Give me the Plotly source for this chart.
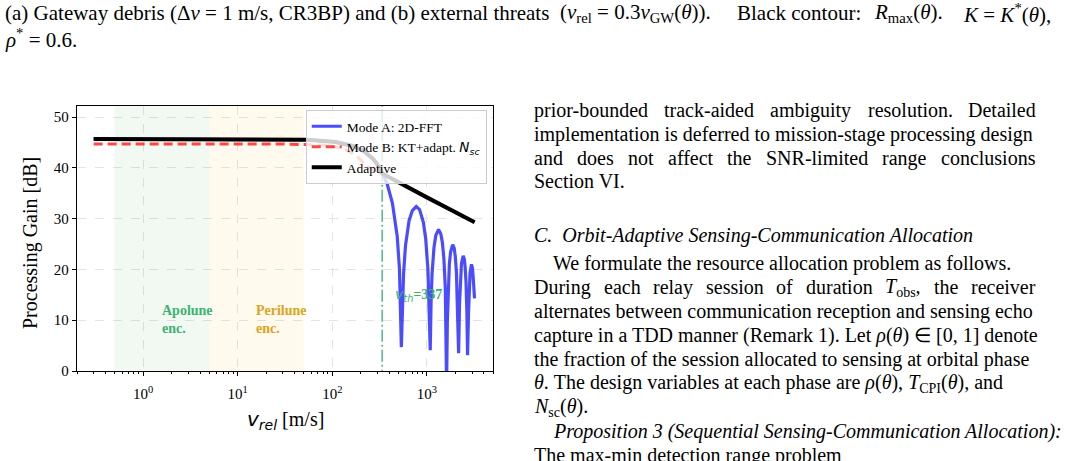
import math
import plotly.graph_objects as go

# ---------------- data ----------------
mode_a_v = [0.3, 1, 10, 30, 54, 108, 162, 216, 270, 324, 378, 432, 486, 513, 537,
            567, 594, 648, 702, 772, 837, 918, 972, 1026, 1053, 1085,
            1107, 1134, 1188, 1242, 1328, 1404, 1458, 1512, 1566, 1593, 1615,
            1647, 1674, 1728, 1782, 1874, 1944, 1998, 2052, 2106, 2165,
            2214, 2268, 2322, 2419, 2484, 2538, 2592, 2646, 2690,
            2754, 2808, 2862, 2959, 3024, 3078, 3132, 3190]
mode_a_gain = [45.7, 45.7, 45.7, 45.66, 45.56, 45.12, 44.37, 43.28, 41.78, 39.76, 37.0, 33.1, 26.5, 20.1, 4.7,
               19.2, 24.7, 29.6, 31.6, 32.4, 31.8, 29.3, 26.0, 20.0, 13.8, 4.1,
               13.4, 19.1, 24.3, 26.7, 27.9, 27.0, 25.3, 22.2, 16.3, 10.2, -3.0,
               10.0, 15.7, 21.0, 23.5, 24.9, 24.2, 22.5, 19.5, 13.7, 3.5,
               13.3, 18.7, 21.2, 22.7, 22.1, 20.5, 17.5, 11.7, 3.1,
               11.4, 16.8, 19.4, 21.0, 20.4, 18.8, 15.9, 14.3]

mode_b_v = [0.3, 30, 80, 130, 180, 230, 280, 337, 1000, 3200]
mode_b_gain = [44.7, 44.7, 44.5, 43.9, 42.4, 40.4, 39.4, 38.9, 34.2, 29.3]

adaptive_v = [0.3, 10, 30, 54, 108, 162, 216, 270, 300, 337, 1000, 3200]
adaptive_gain = [45.7, 45.7, 45.66, 45.56, 45.12, 44.37, 43.28, 41.78, 40.7, 38.9, 34.2, 29.3]

v_th = 337
apolune_band = [0.5, 5]
perilune_band = [5, 50]

x_tick_vals = [1, 10, 100, 1000]
x_tick_text = ["10<sup>0</sup>", "10<sup>1</sup>", "10<sup>2</sup>", "10<sup>3</sup>"]
y_tick_vals = [0, 10, 20, 30, 40, 50]

# ---------------- layout geometry ----------------
W, H = 1071, 461
L, R, T, B = 77, 578, 106, 90
PW, PH = W - L - R, H - T - B
SERIF = "Liberation Serif"
GREEN = "rgb(60,179,113)"
GOLD = "rgb(218,165,32)"


def px(x):
    return (x - L) / PW


def py(y):
    return (H - B - y) / PH


fig = go.Figure()

# shaded regions
for band, col in [(apolune_band, "rgba(34,139,34,0.06)"), (perilune_band, "rgba(255,165,0,0.065)")]:
    fig.add_trace(go.Scatter(x=[band[0], band[1], band[1], band[0], band[0]],
                             y=[-10, -10, 100, 100, -10], fill="toself", fillcolor=col,
                             mode="lines", line=dict(width=0), showlegend=False, hoverinfo="skip"))

# threshold line
fig.add_trace(go.Scatter(x=[v_th, v_th], y=[-10, 100], mode="lines",
                         line=dict(color="rgba(60,179,113,0.85)", width=1.6, dash="12px,3px,2px,3px"),
                         showlegend=False, hoverinfo="skip"))

fig.add_trace(go.Scatter(x=mode_a_v, y=mode_a_gain, mode="lines", name="Mode A: 2D-FFT",
                         line=dict(color="rgba(0,0,255,0.7)", width=3.2)))
fig.add_trace(go.Scatter(x=mode_b_v, y=mode_b_gain, mode="lines",
                         name="Mode B: KT+adapt. <span style=\"font-family:DejaVu Sans\"><i>N</i><sub><i>sc</i></sub></span>",
                         line=dict(color="rgba(255,0,0,0.72)", width=3, dash="9px,5px")))
fig.add_trace(go.Scatter(x=adaptive_v, y=adaptive_gain, mode="lines", name="Adaptive",
                         line=dict(color="black", width=4)))

minor_vals = [m * 10 ** e for e in range(-1, 4) for m in range(2, 10) if 0.2 <= m * 10 ** e <= 5000]

fig.update_xaxes(type="log", range=[math.log10(0.2), math.log10(5000)],
                 tickvals=x_tick_vals, ticktext=x_tick_text,
                 ticks="outside", ticklen=4, tickwidth=1, tickcolor="black",
                 ticklabelstandoff=5,
                 showline=True, linecolor="black", linewidth=1.3, mirror=True,
                 showgrid=True, gridcolor="#e4e4e4", griddash="dash", gridwidth=1,
                 zeroline=False,
                 tickfont=dict(family=SERIF, size=15, color="black"),
                 minor=dict(tickvals=minor_vals, ticks="outside", ticklen=2, tickwidth=0.8,
                            tickcolor="black", showgrid=False))
fig.update_yaxes(range=[0, 52.2], tickvals=y_tick_vals,
                 ticks="outside", ticklen=4, tickwidth=1, tickcolor="black",
                 showline=True, linecolor="black", linewidth=1.3, mirror=True,
                 showgrid=True, gridcolor="#e4e4e4", griddash="dash", gridwidth=1,
                 zeroline=False,
                 tickfont=dict(family=SERIF, size=15, color="black"))

annotations = []


def text(x, y, s, anchor="left", size=20, color="black"):
    annotations.append(dict(xref="paper", yref="paper", x=px(x), y=py(y), text=s,
                            xanchor=anchor, yanchor="middle", showarrow=False,
                            font=dict(family=SERIF, size=size, color=color)))


# axis titles
annotations.append(dict(xref="paper", yref="paper", x=px(30), y=py(243), text="Processing Gain [dB]",
                        textangle=-90, xanchor="center", yanchor="middle", showarrow=False,
                        font=dict(family=SERIF, size=20, color="black")))
annotations.append(dict(xref="paper", yref="paper", x=0.5, y=py(420),
                        text="<span style=\"font-family:DejaVu Sans\"><i>v</i><sub><i>rel</i></sub></span> [m/s]",
                        xanchor="center", yanchor="middle", showarrow=False,
                        font=dict(family=SERIF, size=20, color="black")))

# in-plot labels
annotations.append(dict(x=math.log10(1.5), y=10.2, xref="x", yref="y", text="<b>Apolune<br>enc.</b>",
                        align="left", xanchor="left", yanchor="middle", showarrow=False,
                        font=dict(family=SERIF, size=14, color=GREEN)))
annotations.append(dict(x=math.log10(15), y=10.2, xref="x", yref="y", text="<b>Perilune<br>enc.</b>",
                        align="left", xanchor="left", yanchor="middle", showarrow=False,
                        font=dict(family=SERIF, size=14, color=GOLD)))
annotations.append(dict(x=math.log10(440), y=14.9, xref="x", yref="y",
                        text="<span style=\"font-family:DejaVu Sans\"><i>v</i><sub><i>th</i></sub></span><b>=337</b>",
                        xanchor="left", yanchor="middle", showarrow=False,
                        font=dict(family=SERIF, size=14, color=GREEN)))

# caption (justified line split into chunks)
text(3, 13, "(a) Gateway debris (Δ<i>v</i> = 1 m/s, CR3BP) and (b) external threats", size=21)
text(558, 13, "(<i>v</i><sub>rel</sub> = 0.3<i>v</i><sub>GW</sub>(<i>θ</i>)).", size=21)
text(735, 13, "Black contour:", size=21)
text(872, 13, "<i>R</i><sub>max</sub>(<i>θ</i>).", size=21)
text(1053, 13, "<i>K</i> = <i>K</i><sup>*</sup>(<i>θ</i>),", anchor="right", size=21)
text(3, 38, "<i>ρ</i><sup>*</sup> = 0.6.", size=21)

# right column (justified lines split into words)
for x, w in zip([532, 662, 768, 866, 966],
                ["prior-bounded", "track-aided", "ambiguity", "resolution.", "Detailed"]):
    text(x, 110, w)
text(532, 134, "implementation is deferred to mission-stage processing design")
for x, w in zip([532, 575, 626, 665.5, 725, 763.5, 880, 938.5],
                ["and", "does", "not", "affect", "the", "SNR-limited", "range", "conclusions"]):
    text(x, 158, w)
text(532, 181, "Section VI.")
text(532, 235, "<i>C.  Orbit-Adaptive Sensing-Communication Allocation</i>")
text(551, 263, "We formulate the resource allocation problem as follows.")
for x, w in zip([532, 601.5, 651, 703.7, 774.3, 803.8, 883.3, 931.6, 968.8],
                ["During", "each", "relay", "session", "of", "duration", "<i>T</i><sub>obs</sub>,", "the", "receiver"]):
    text(x, 287, w)
text(532, 311, "alternates between communication reception and sensing echo")
text(532, 335, "capture in a TDD manner (Remark 1). Let <i>ρ</i>(<i>θ</i>) ∈ [0, 1] denote")
text(532, 359, "the fraction of the session allocated to sensing at orbital phase")
text(532, 383, "<i>θ</i>. The design variables at each phase are <i>ρ</i>(<i>θ</i>), <i>T</i><sub>CPI</sub>(<i>θ</i>), and")
text(532, 407, "<i>N</i><sub>sc</sub>(<i>θ</i>).")
text(551, 431, "<i>Proposition 3 (Sequential Sensing-Communication Allocation):</i>")
text(532, 455, "The max-min detection range problem")

fig.update_layout(
    width=W, height=H,
    margin=dict(l=L, r=R, t=T, b=B, autoexpand=False),
    paper_bgcolor="white", plot_bgcolor="white",
    showlegend=True,
    legend=dict(x=0.985, y=0.985, xanchor="right", yanchor="top",
                bgcolor="rgba(255,255,255,0.8)", bordercolor="#cccccc", borderwidth=1,
                font=dict(family=SERIF, size=13.5, color="black"), tracegroupgap=0),
    annotations=annotations,
)

fig.write_html("out.html")
